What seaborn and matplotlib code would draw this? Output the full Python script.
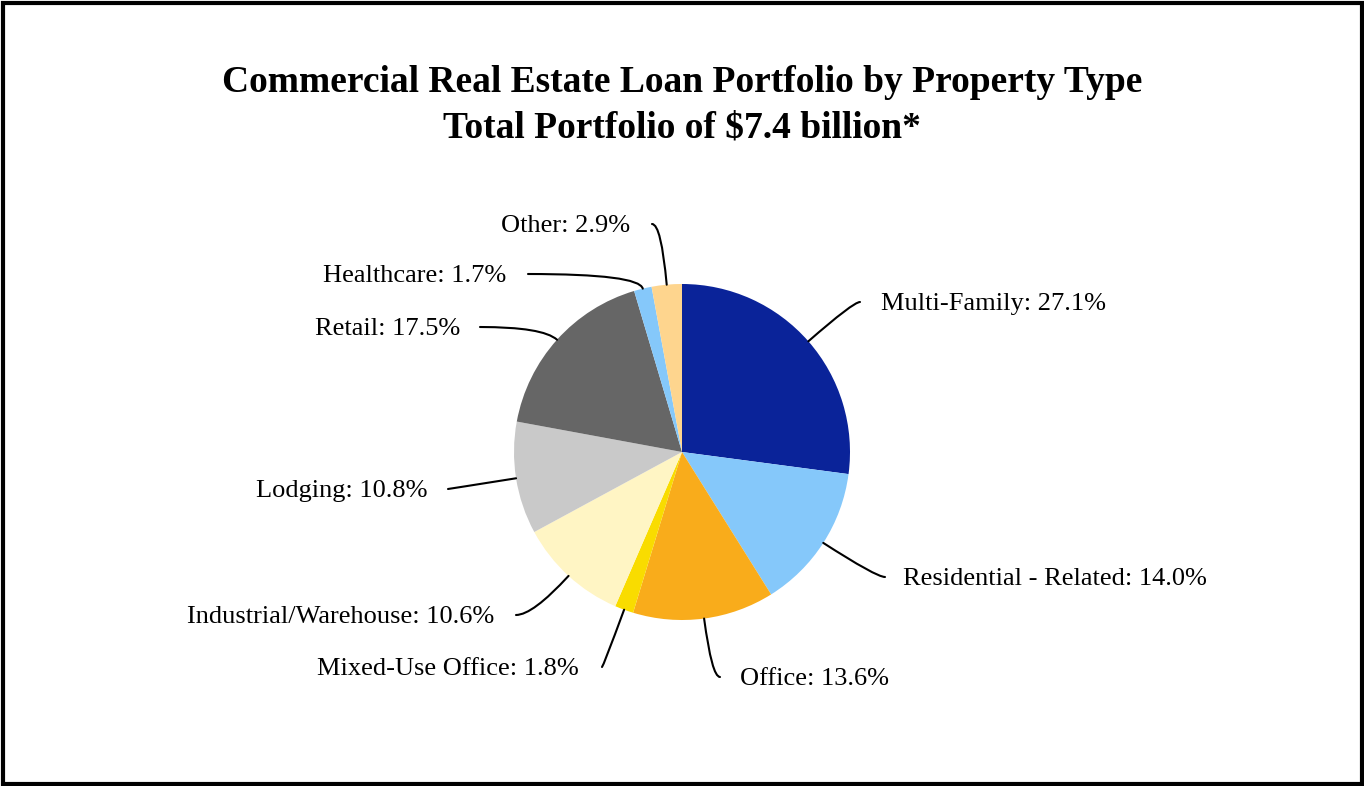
import matplotlib
matplotlib.use("Agg")
import matplotlib.pyplot as plt
from matplotlib.patches import Rectangle
import numpy as np
import seaborn as sns

# ---- data ----
categories = ["Multi-Family", "Residential - Related", "Office", "Mixed-Use Office",
              "Industrial/Warehouse", "Lodging", "Retail", "Healthcare", "Other"]
shares = [27.1, 14.0, 13.6, 1.8, 10.6, 10.8, 17.5, 1.7, 2.9]
title_lines = ["Commercial Real Estate Loan Portfolio by Property Type",
               "Total Portfolio of $7.4 billion*"]

# ---- style ----
sns.set_theme(style="white")
plt.rcParams["font.family"] = ["Liberation Serif", "DejaVu Serif"]
colors = sns.color_palette(["#0A2399", "#85C8FA", "#F9AC1B", "#F9DC00", "#FFF5C4",
                            "#C9C9C9", "#666666", "#85C8FA", "#FED58E"])

W, H = 1364, 786
fig = plt.figure(figsize=(W / 100, H / 100), dpi=100)
ax = fig.add_axes([0, 0, 1, 1])
ax.set_xlim(0, W)
ax.set_ylim(0, H)
ax.set_aspect("equal")
ax.axis("off")

def Y(py):
    return H - py

cx, cy, R = 682, Y(452), 168
wedges, _ = ax.pie(shares, colors=colors, startangle=90, counterclock=False,
                   center=(cx, cy), radius=R, wedgeprops=dict(linewidth=0))
ax.set_xlim(0, W)
ax.set_ylim(0, H)

# layout: leader-line end point (pixels), text edge x (pixels), side of text
layout = [
    ((860, 302), 881, "left"),
    ((885, 577), 903, "left"),
    ((720, 677), 740, "left"),
    ((602, 667), 579, "right"),
    ((516, 615), 494, "right"),
    ((448, 489), 428, "right"),
    ((480, 327), 460, "right"),
    ((528, 274), 506, "right"),
    ((652, 224), 630, "right"),
]

for w, cat, val, ((lx, ly), tx, side) in zip(wedges, categories, shares, layout):
    mid = np.deg2rad((w.theta1 + w.theta2) / 2)
    bx, by = cx + R * np.cos(mid), cy + R * np.sin(mid)
    ang = np.rad2deg(mid)
    ax.annotate("", xy=(bx, by), xytext=(lx, Y(ly)),
                arrowprops=dict(arrowstyle="-", color="black", lw=1.5,
                                shrinkA=0, shrinkB=0,
                                connectionstyle=f"angle3,angleA=0,angleB={ang:.1f}"))
    label = f"{cat}: {val:.1f}%"
    ax.text(tx, Y(ly + 2), label, ha=side, va="center", fontsize=19, color="black")

ax.text(W / 2, Y(82), title_lines[0], ha="center", va="center",
        fontsize=27, fontweight="bold", color="black")
ax.text(W / 2, Y(128), title_lines[1], ha="center", va="center",
        fontsize=27, fontweight="bold", color="black")

ax.add_patch(Rectangle((3, Y(784)), 1359, 781, fill=False, edgecolor="black",
                       linewidth=3, clip_on=False))

fig.savefig("out.png", dpi=100)
